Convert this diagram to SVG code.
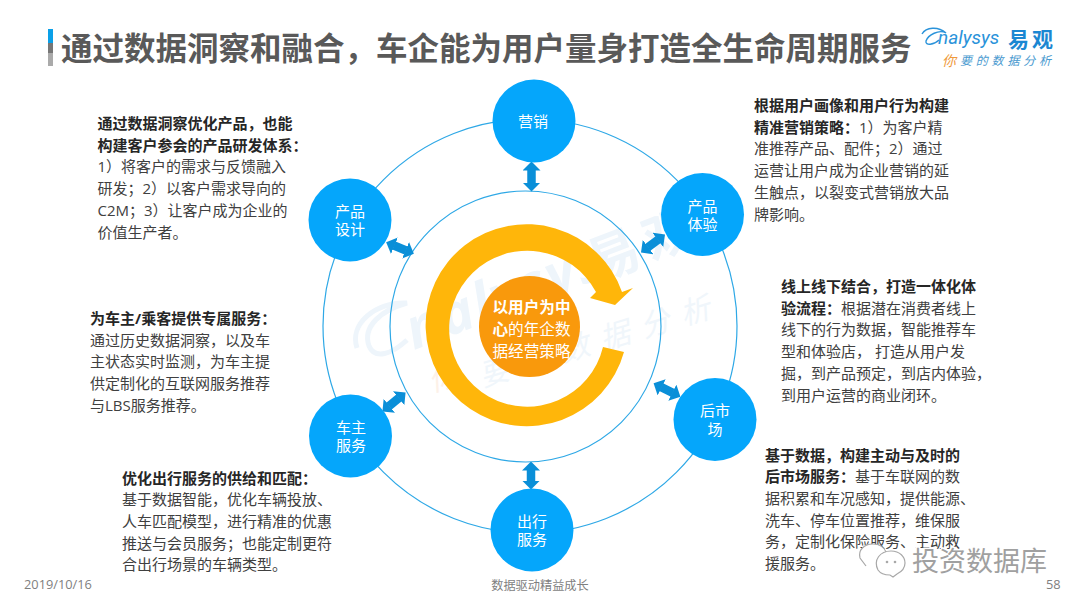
<svg xmlns="http://www.w3.org/2000/svg" width="1080" height="608" viewBox="0 0 1080 608">
<style>
text{font-family:"Open Sans","Noto Sans CJK SC","Noto Sans",sans-serif}
.body{font-size:15px;fill:#404040}
.body .b{font-weight:700;fill:#262626}
.nt{font-size:15px;fill:#fff;text-anchor:middle}
.node{fill:#05a6fb}
.ring{fill:none;stroke:#2ea8e6;stroke-width:1.2}
.link{stroke:#0a8fd8;stroke-width:8.5;marker-start:url(#ah);marker-end:url(#ah)}
.foot{font-size:12.2px;fill:#7f7f7f}
.wm{font-weight:700;fill:#eef5fb}
</style>
<defs>
<marker id="ah" markerUnits="userSpaceOnUse" markerWidth="9" markerHeight="18" refX="0.5" refY="9" orient="auto-start-reverse" viewBox="0 0 9 18"><path d="M0,0L9,9L0,18Z" fill="#0a8fd8"/></marker>
</defs>
<rect width="1080" height="608" fill="#fff"/>
<g id="watermark">
<path d="M357,348C349,324 375,302 407,303C382,310 362,326 369,346C375,360 392,354 407,340" fill="none" stroke="#eef5fb" stroke-width="5"/>
<text class="wm" font-size="56" font-style="italic" transform="translate(414,350) rotate(-21)" letter-spacing="2">nalysys</text>
<text class="wm" font-size="52" transform="translate(596,282) rotate(-21)" letter-spacing="8">易观</text>
<text font-size="30" fill="#fdf1e8" font-style="italic" transform="translate(432,392) rotate(-17)">你</text>
<text font-size="30" fill="#f0f6fb" font-style="italic" transform="translate(483,387) rotate(-17)" letter-spacing="12">要的数据分析</text>
</g>
<g id="title">
<rect x="48" y="29" width="5" height="14" fill="#0aa0e8"/>
<rect x="48" y="43" width="5" height="10" fill="#777"/>
<rect x="48" y="53" width="5" height="13" fill="#aaa"/>
<text x="61" y="60" font-size="31.5" font-weight="700" fill="#595959">通过数据洞察和融合，车企能为用户量身打造全生命周期服务</text>
</g>
<g id="logo">
<path d="M922,34C926,27 938,26 946,33C939,29 928,35 926,41C925,46 934,45 939,40" fill="none" stroke="#2a93da" stroke-width="1.4"/>
<text x="938" y="44" font-size="19" font-style="italic" fill="#2a93da" style="font-family:Roboto,sans-serif">nalysys</text>
<text x="1008" y="47" font-size="21" font-weight="700" fill="#1b87d2" letter-spacing="3">易观</text>
<text x="942" y="66" font-size="14" font-style="italic" fill="#ef9a3c">你</text>
<text x="960" y="65" font-size="12" font-style="italic" fill="#4a9ad0" letter-spacing="3.8">要的数据分析</text>
</g>
<g id="rings">
<circle class="ring" cx="530" cy="326" r="207"/>
<circle class="ring" cx="525.5" cy="326.5" r="135.5"/>
</g>
<g id="connectors">
<line class="link" x1="531.5" y1="170" x2="531.5" y2="183"/>
<line class="link" x1="531" y1="470" x2="531" y2="481"/>
<line class="link" x1="394" y1="245.5" x2="406" y2="250.5"/>
<line class="link" x1="647.8" y1="247.4" x2="658.2" y2="239.6"/>
<line class="link" x1="661.2" y1="387.1" x2="672.8" y2="392.9"/>
<line class="link" x1="389" y1="406.1" x2="399" y2="397.9"/>
</g>
<g id="center">
<path d="M624,352A101,101 0 1 1 622,292L633,288L615,305L590,298L596,292A78,78 0 1 0 603,347Z" fill="#ffb60a"/>
<circle cx="529.5" cy="326.5" r="50.5" fill="#f9990c"/>
<text font-size="15.6" fill="#fff"><tspan x="492.5" y="312.5" font-weight="700">以用户为中</tspan><tspan x="492.5" y="334.5" font-weight="700">心</tspan><tspan>的年企数</tspan><tspan x="492.5" y="356.5">据经营策略</tspan></text>
</g>
<g id="node-marketing"><circle class="node" cx="534" cy="121" r="41.5"/><text class="nt" x="533" y="127">营销</text></g>
<g id="node-design"><circle class="node" cx="350" cy="220" r="41.5"/><text class="nt"><tspan x="350" y="216.5">产品</tspan><tspan x="350" y="234.5">设计</tspan></text></g>
<g id="node-experience"><circle class="node" cx="702.5" cy="214.5" r="41.5"/><text class="nt"><tspan x="702.5" y="211.5">产品</tspan><tspan x="702.5" y="229.5">体验</tspan></text></g>
<g id="node-aftermarket"><circle class="node" cx="715" cy="419.5" r="41.5"/><text class="nt"><tspan x="715" y="416">后市</tspan><tspan x="715" y="434.5">场</tspan></text></g>
<g id="node-owner"><circle class="node" cx="350.5" cy="436" r="41.5"/><text class="nt"><tspan x="351" y="432.5">车主</tspan><tspan x="351" y="451">服务</tspan></text></g>
<g id="node-mobility"><circle class="node" cx="532" cy="530" r="41.5"/><text class="nt"><tspan x="532" y="526.5">出行</tspan><tspan x="532" y="544.5">服务</tspan></text></g>
<g id="text-design"><text class="body"><tspan class="b" x="97.5" y="129">通过数据洞察优化产品，也能</tspan><tspan class="b" x="97.5" dy="21.7">构建客户参会的产品研发体系：</tspan><tspan x="97.5" dy="21.7">1）将客户的需求与反馈融入</tspan><tspan x="97.5" dy="21.7">研发；2）以客户需求导向的</tspan><tspan x="97.5" dy="21.7">C2M；3）让客户成为企业的</tspan><tspan x="97.5" dy="21.7">价值生产者。</tspan></text></g>
<g id="text-marketing"><text class="body"><tspan class="b" x="754" y="111">根据用户画像和用户行为构建</tspan><tspan class="b" x="754" dy="21.7">精准营销策略：</tspan><tspan>1）为客户精</tspan><tspan x="754" dy="21.7">准推荐产品、配件；2）通过</tspan><tspan x="754" dy="21.7">运营让用户成为企业营销的延</tspan><tspan x="754" dy="21.7">生触点，以裂变式营销放大品</tspan><tspan x="754" dy="21.7">牌影响。</tspan></text></g>
<g id="text-experience"><text class="body"><tspan class="b" x="781" y="292">线上线下结合，打造一体化体</tspan><tspan class="b" x="781" dy="21.7">验流程：</tspan><tspan>根据潜在消费者线上</tspan><tspan x="781" dy="21.7">线下的行为数据，智能推荐车</tspan><tspan x="781" dy="21.7">型和体验店， 打造从用户发</tspan><tspan x="781" dy="21.7">掘，到产品预定，到店内体验，</tspan><tspan x="781" dy="21.7">到用户运营的商业闭环。</tspan></text></g>
<g id="text-aftermarket"><text class="body"><tspan class="b" x="765" y="460.5">基于数据，构建主动与及时的</tspan><tspan class="b" x="765" dy="21.7">后市场服务：</tspan><tspan>基于车联网的数</tspan><tspan x="765" dy="21.7">据积累和车况感知，提供能源、</tspan><tspan x="765" dy="21.7">洗车、停车位置推荐，维保服</tspan><tspan x="765" dy="21.7">务，定制化保险服务、主动救</tspan><tspan x="765" dy="21.7">援服务。</tspan></text></g>
<g id="text-owner"><text class="body"><tspan class="b" x="90" y="324">为车主/乘客提供专属服务：</tspan><tspan x="90" dy="21.7">通过历史数据洞察，以及车</tspan><tspan x="90" dy="21.7">主状态实时监测，为车主提</tspan><tspan x="90" dy="21.7">供定制化的互联网服务推荐</tspan><tspan x="90" dy="21.7">与LBS服务推荐。</tspan></text></g>
<g id="text-mobility"><text class="body"><tspan class="b" x="122" y="483.5">优化出行服务的供给和匹配：</tspan><tspan x="122" dy="21.7">基于数据智能，优化车辆投放、</tspan><tspan x="122" dy="21.7">人车匹配模型，进行精准的优惠</tspan><tspan x="122" dy="21.7">推送与会员服务；也能定制更符</tspan><tspan x="122" dy="21.7">合出行场景的车辆类型。</tspan></text></g>
<g id="wechat">
<path d="M866,566L860,558C858,550 864,544 873,544C879,544 884,547 886,552" fill="#fff" stroke="#a8a8a8" stroke-width="1.2"/>
<path d="M878,570C873,560 880,551 891,551C900,551 905,557 905,563C905,569 901,572 897,574L893,577L890,575C885,575 880,573 878,570Z" fill="#fff" stroke="#a8a8a8" stroke-width="1.2"/>
<circle cx="887" cy="562" r="1.3" fill="#a8a8a8"/><circle cx="895" cy="562" r="1.3" fill="#a8a8a8"/>
<text x="912" y="571" font-size="27" fill="#a0a0a0" stroke="#fff" stroke-width="3" paint-order="stroke">投资数据库</text>
</g>
<g id="footer">
<text class="foot" x="24" y="589" style="font-size:12.8px">2019/10/16</text>
<text class="foot" x="540" y="590" text-anchor="middle">数据驱动精益成长</text>
<text class="foot" x="1046" y="589" style="font-size:12.8px">58</text>
</g>
</svg>
